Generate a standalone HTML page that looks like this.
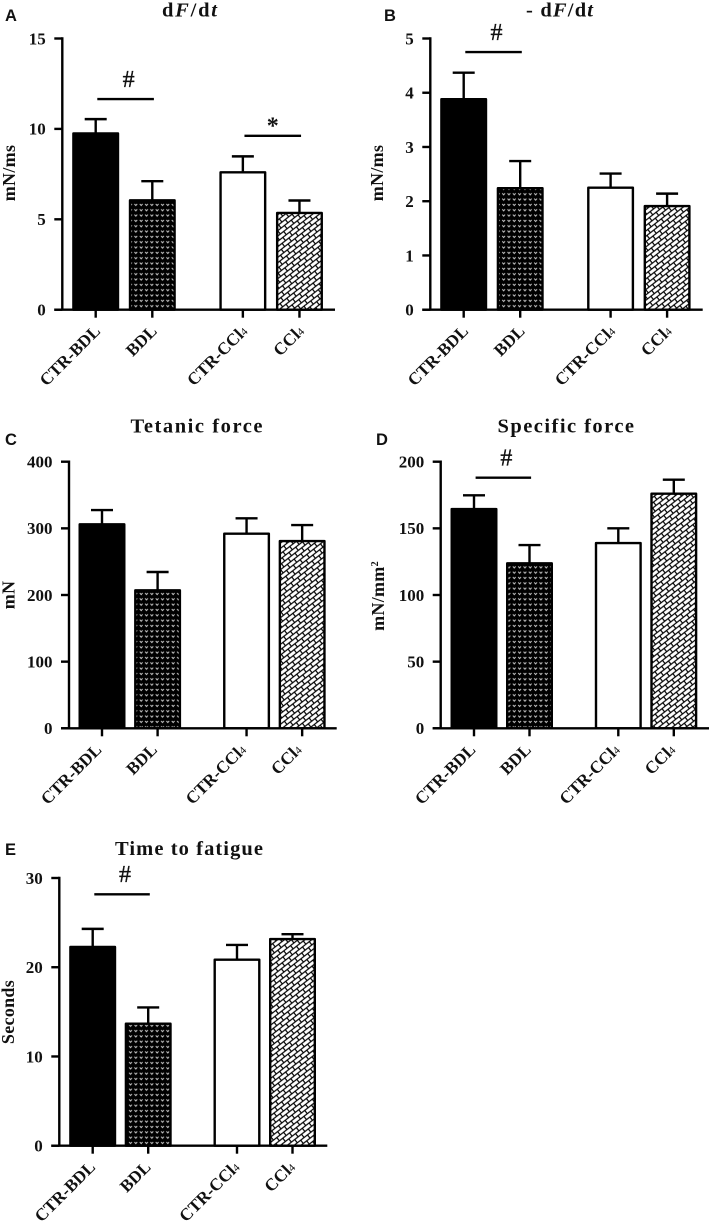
<!DOCTYPE html>
<html lang="en">
<head>
<meta charset="utf-8">
<title>Muscle force bar charts</title>
<style>
html,body{margin:0;padding:0;background:#fff;}
svg{display:block;filter:blur(.35px);}
text{font-family:"Liberation Serif",serif;font-weight:bold;fill:#111;}
.panel-letter{font-family:"Liberation Sans",sans-serif;font-size:16.5px;}
.title{font-size:20.5px;}
.tick{font-size:17px;text-anchor:end;}
.cat{font-size:17.2px;text-anchor:end;}
.ytitle{font-size:18px;text-anchor:middle;letter-spacing:.3px;}
.sub4{font-size:11px;font-weight:normal;}
</style>
</head>
<body>
<svg id="figure" width="709" height="1224" viewBox="0 0 709 1224" xmlns="http://www.w3.org/2000/svg">
<defs>
<pattern id="dots" patternUnits="userSpaceOnUse" width="10.66" height="10.66">
<rect width="10.66" height="10.66" fill="#000"/>
<path d="M1.2 1.4 L2.6 3 L4 1.4 M6.5 1.4 L7.9 3 L9.3 1.4 M1.2 6.7 L2.6 8.3 L4 6.7 M6.5 6.7 L7.9 8.3 L9.3 6.7" fill="none" stroke="#c8c8c8" stroke-width="1"/>
</pattern>
<pattern id="hatch" patternUnits="userSpaceOnUse" width="8.6" height="8.4" patternTransform="rotate(-38)">
<rect width="8.6" height="8.4" fill="#000"/>
<rect x="0" y="0.6" width="7.4" height="3" fill="#fff"/>
<rect x="4.3" y="4.8" width="7.4" height="3" fill="#fff"/>
<rect x="-4.3" y="4.8" width="7.4" height="3" fill="#fff"/>
</pattern>
</defs>
<rect width="709" height="1224" fill="#fff"/>

<text class="panel-letter" x="5" y="21">A</text>
<text class="panel-letter" x="384" y="21">B</text>
<text class="panel-letter" x="5" y="445">C</text>
<text class="panel-letter" x="376" y="445">D</text>
<text class="panel-letter" x="5" y="855">E</text>

<text class="title" x="162" y="16.5" textLength="55" lengthAdjust="spacing">d<tspan font-style="italic">F</tspan>/d<tspan font-style="italic">t</tspan></text>
<text class="title" x="526" y="16.5" textLength="67" lengthAdjust="spacing">- d<tspan font-style="italic">F</tspan>/d<tspan font-style="italic">t</tspan></text>
<text class="title" x="130.5" y="432.5" textLength="132" lengthAdjust="spacing">Tetanic force</text>
<text class="title" x="497.5" y="432.5" textLength="136.5" lengthAdjust="spacing">Specific force</text>
<text class="title" x="115" y="855" textLength="148" lengthAdjust="spacing">Time to fatigue</text>

<text class="ytitle" transform="translate(15 173) rotate(-90)">mN/ms</text>
<text class="ytitle" transform="translate(383 173) rotate(-90)">mN/ms</text>
<text class="ytitle" transform="translate(14.5 595) rotate(-90)">mN</text>
<text class="ytitle" transform="translate(384 596) rotate(-90)">mN/mm<tspan font-size="10" dy="-6">2</tspan></text>
<text class="ytitle" transform="translate(14 1012) rotate(-90)">Seconds</text>
</svg>

<script>
// Shared categories
const categories = ['CTR-BDL', 'BDL', 'CTR-CCl', 'CCl'];

// Panel A: dF/dt
const panelATicks = [0, 5, 10, 15];
const panelAValues = [9.75, 6.05, 7.6, 5.35];
const panelAErrors = [0.79, 1.06, 0.88, 0.69];

// Panel B: -dF/dt
const panelBTicks = [0, 1, 2, 3, 4, 5];
const panelBValues = [3.88, 2.24, 2.25, 1.91];
const panelBErrors = [0.49, 0.5, 0.26, 0.23];

// Panel C: Tetanic force
const panelCTicks = [0, 100, 200, 300, 400];
const panelCValues = [306, 207, 292, 281];
const panelCErrors = [21.5, 27.5, 23, 24];

// Panel D: Specific force
const panelDTicks = [0, 50, 100, 150, 200];
const panelDValues = [164.5, 123.75, 139, 176];
const panelDErrors = [10.25, 13.75, 11, 10.5];

// Panel E: Time to fatigue
const panelETicks = [0, 10, 20, 30];
const panelEValues = [22.27, 13.67, 20.85, 23.16];
const panelEErrors = [2.03, 1.83, 1.65, 0.54];

// Significance brackets: first category index, second category index, value level, symbol
const panelASig = [[0, 1, 11.65, '#'], [2, 3, 9.62, '*']];
const panelBSig = [[0, 1, 4.75, '#']];
const panelCSig = [];
const panelDSig = [[0, 1, 188, '#']];
const panelESig = [[0, 1, 28.17, '#']];

const panels = [
  {id: 'a', ticks: panelATicks, values: panelAValues, errors: panelAErrors, sig: panelASig,
   axisX: 62.3, xEnd: 335, top: 38.5, bottom: 309.7, first: 95.7, step: 56.6, labelDx: 5.5},
  {id: 'b', ticks: panelBTicks, values: panelBValues, errors: panelBErrors, sig: panelBSig,
   axisX: 430.3, xEnd: 702.7, top: 38.5, bottom: 309.7, first: 463.7, step: 56.5, labelDx: 5.5},
  {id: 'c', ticks: panelCTicks, values: panelCValues, errors: panelCErrors, sig: panelCSig,
   axisX: 69, xEnd: 336.7, top: 461.7, bottom: 728.3, first: 102, step: 55.6, labelDx: 0.5},
  {id: 'd', ticks: panelDTicks, values: panelDValues, errors: panelDErrors, sig: panelDSig,
   axisX: 440.7, xEnd: 709, top: 461.7, bottom: 728.3, first: 474, step: 55.5, labelDx: 2.5},
  {id: 'e', ticks: panelETicks, values: panelEValues, errors: panelEErrors, sig: panelESig,
   axisX: 59.3, xEnd: 327.3, top: 878, bottom: 1145.7, first: 92.7, step: 55.5, labelDx: 3.5}
];

const fills = ['#000', 'url(#dots)', '#fff', 'url(#hatch)'];
const NS = 'http://www.w3.org/2000/svg';
const svg = document.getElementById('figure');
const BAR_W = 44.6;
const CAP_W = 22;
const STROKE = 2.4;
const GROUP_GAP = 0.6;

function make(parent, tag, attrs) {
  const el = document.createElementNS(NS, tag);
  for (const k in attrs) el.setAttribute(k, attrs[k]);
  parent.appendChild(el);
  return el;
}

function drawPanel(p) {
  const yMax = p.ticks[p.ticks.length - 1];
  const yScale = v => p.bottom - (v / yMax) * (p.bottom - p.top);
  const xScale = i => p.first + p.step * (i + (i >= 2 ? GROUP_GAP : 0));

  const g = make(svg, 'g', {});
  
  

  p.values.forEach((v, i) => {
    const cx = xScale(i);
    const err = make(g, 'path', {
      d: 'M' + cx + ' ' + yScale(v) + 'V' + yScale(v + p.errors[i]) + 'M' + (cx - CAP_W / 2) + ' ' + yScale(v + p.errors[i]) + 'H' + (cx + CAP_W / 2),
      stroke: '#000', 'stroke-width': STROKE, fill: 'none'
    });
    
    

    const bar = make(g, 'rect', {
      x: cx - BAR_W / 2, y: yScale(v), width: BAR_W, height: p.bottom - yScale(v),
      fill: fills[i], stroke: '#000', 'stroke-width': STROKE, 'stroke-linejoin': 'round'
    });
    
    

    const tick = make(g, 'line', {x1: cx, x2: cx, y1: p.bottom, y2: p.bottom + 8, stroke: '#000', 'stroke-width': STROKE});
    
    

    const lx = cx + p.labelDx;
    const ly = p.bottom + 22.5;
    const label = make(g, 'text', {class: 'cat', transform: 'translate(' + lx + ' ' + ly + ') rotate(-45)'});
    
    
    label.textContent = categories[i];
    if (i >= 2) {
      const sub = make(label, 'tspan', {class: 'sub4'});
      sub.textContent = '4';
    }
  });

  const yAxis = make(g, 'line', {x1: p.axisX, x2: p.axisX, y1: p.top - 1.2, y2: p.bottom, stroke: '#000', 'stroke-width': STROKE});
  
  

  const xAxis = make(g, 'line', {x1: p.axisX - 8, x2: p.xEnd, y1: p.bottom, y2: p.bottom, stroke: '#000', 'stroke-width': STROKE});
  
  

  p.ticks.forEach(t => {
    const y = yScale(t);
    const tk = make(g, 'line', {x1: p.axisX - 8, x2: p.axisX, y1: y, y2: y, stroke: '#000', 'stroke-width': STROKE});
    
    

    const lb = make(g, 'text', {class: 'tick', x: p.axisX - 16.5, y: y + 5.8});
    
    
    lb.textContent = t;
  });

  p.sig.forEach((s, k) => {
    const x1 = xScale(s[0]) + 1.6;
    const x2 = xScale(s[1]) + 1.6;
    const y = yScale(s[2]);
    const line = make(g, 'line', {x1: x1, x2: x2, y1: y, y2: y, stroke: '#000', 'stroke-width': 2.4});
    
    

    const isHash = s[3] === '#';
    const mark = make(g, 'text', {
      x: (x1 + x2) / 2 + (isHash ? 3 : 0), y: y - (isHash ? 12.3 : 2.5), 'text-anchor': 'middle',
      'font-size': 24, style: isHash ? 'font-weight:normal;stroke:#111;stroke-width:.35px' : ''
    });
    
    
    mark.textContent = s[3];
  });
}

panels.forEach(drawPanel);
</script>
</body>
</html>
